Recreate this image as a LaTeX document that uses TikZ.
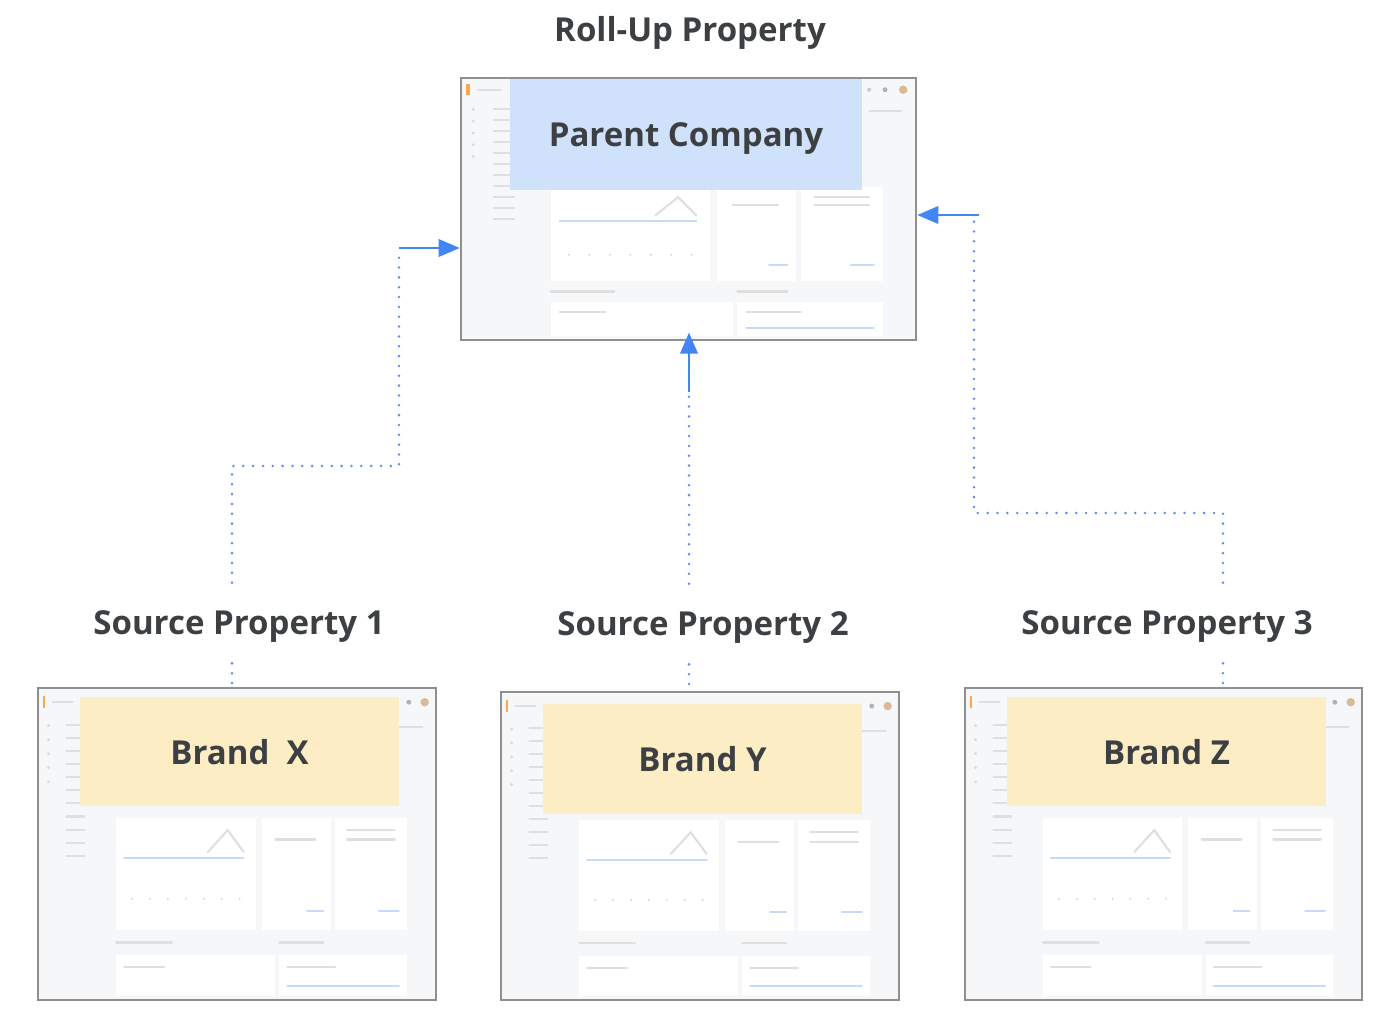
\documentclass[tikz,border=0pt]{standalone}
\usepackage{fontspec}
\setmainfont{Open Sans}
\usetikzlibrary{arrows.meta,calc}

% 颜色
\definecolor{txtgray}{HTML}{3C4043}
\definecolor{framegray}{HTML}{8F8F8F}
\definecolor{pagebg}{HTML}{F6F7F8}
\definecolor{linkblue}{HTML}{4285F4}
\definecolor{dotblue}{HTML}{5C8FEA}
\definecolor{parentblue}{HTML}{D0E1FB}
\definecolor{brandyellow}{HTML}{FDEDC4}

% 截图内容(模糊的界面示意)
\newcommand{\uimock}[3]{%
  \begin{scope}[shift={(#1.north west)}, x=#2*0.02cm, y=-#3*0.02cm]
    % 卡片
    \fill[white] (0.2,0.42) rectangle (0.55,0.78);
    \fill[white] (0.565,0.42) rectangle (0.74,0.78);
    \fill[white] (0.75,0.42) rectangle (0.93,0.78);
    \fill[white] (0.2,0.86) rectangle (0.6,0.99);
    \fill[white] (0.61,0.86) rectangle (0.93,0.99);
    % 折线图
    \draw[mockline, linkblue!30] (0.22,0.55) -- (0.52,0.55);
    \draw[mockline] (0.43,0.53) -- (0.48,0.46) -- (0.52,0.53);
    \foreach \k in {0,...,6} \fill[gray!35] (0.24+0.045*\k,0.68) circle (0.6pt);
    % 侧栏
    \foreach \k in {1,...,11} \draw[mockline] (0.075,0.08+0.042*\k) -- (0.12,0.08+0.042*\k);
    \foreach \k in {1,...,5} \fill[gray!30] (0.03,0.08+0.045*\k) circle (0.9pt);
    % 顶栏图标
    \fill[orange!70] (0.015,0.03) rectangle (0.022,0.07);
    \draw[mockline] (0.04,0.05) -- (0.09,0.05);
    \fill[gray!40] (0.9,0.05) circle (1.2pt);
    \fill[gray!60] (0.935,0.05) circle (1.4pt);
    \fill[brown!55] (0.975,0.05) circle (2.4pt);
    \draw[mockline] (0.9,0.13) -- (0.97,0.13);
    % 文字行
    \draw[mockline] (0.6,0.49) -- (0.7,0.49);
    \draw[mockline] (0.78,0.46) -- (0.9,0.46);
    \draw[mockline] (0.78,0.49) -- (0.9,0.49);
    \draw[mockline, linkblue!30] (0.68,0.72) -- (0.72,0.72);
    \draw[mockline, linkblue!30] (0.86,0.72) -- (0.91,0.72);
    \draw[mockline] (0.2,0.82) -- (0.34,0.82);
    \draw[mockline] (0.61,0.82) -- (0.72,0.82);
    \draw[mockline] (0.22,0.9) -- (0.32,0.9);
    \draw[mockline] (0.63,0.9) -- (0.75,0.9);
    \draw[mockline, linkblue!30] (0.63,0.96) -- (0.91,0.96);
  \end{scope}}

\begin{document}
\begin{tikzpicture}[
    x=0.02cm, y=-0.02cm,
    title/.style={font=\bfseries\fontsize{18.8}{21}\selectfont, text=txtgray,
      minimum height=1.6cm, inner sep=0pt, text depth=0pt},
    frame/.style={draw=framegray, line width=1.6pt, fill=pagebg, inner sep=0pt},
    cover/.style={inner sep=0pt, text=txtgray, text depth=0pt,
      font=\bfseries\fontsize{18.8}{21}\selectfont},
    mockline/.style={gray!25, line width=1.2pt, line cap=round},
    dots/.style={dotblue, line width=1.6pt, line cap=round,
      dash pattern=on 0pt off 5.6pt},
    link/.style={linkblue, line width=1.2pt,
      -{Triangle[length=12pt, width=10pt]}}
  ]
    % 画布
    \useasboundingbox (0,0) rectangle (1400,1018);

    % 汇总媒体资源
    \node[title, minimum height=0pt] (R) at (690,29) {Roll-Up Property};
    \node[frame, minimum width=9.1cm, minimum height=5.24cm] (P) at (688.5,209) {};
    \uimock{P}{455}{262}
    \node[cover, fill=parentblue, minimum width=7.04cm, minimum height=2.22cm]
      (PC) at (686,134.5) {Parent Company};

    % 来源媒体资源
    \node[title] (S1) at (239,623) {Source Property 1};
    \node[title] (S2) at (703,624) {Source Property 2};
    \node[title] (S3) at (1167,623) {Source Property 3};

    % 三个品牌截图
    \node[frame, minimum width=7.96cm, minimum height=6.24cm] (X) at (237,844) {};
    \node[frame, minimum width=7.96cm, minimum height=6.16cm] (Y) at (700,846) {};
    \node[frame, minimum width=7.94cm, minimum height=6.24cm] (Z) at (1163.5,844) {};
    \uimock{X}{398}{312}
    \uimock{Y}{398}{308}
    \uimock{Z}{397}{312}
    \node[cover, fill=brandyellow, minimum width=6.38cm, minimum height=2.18cm]
      (BX) at (239.5,751.5) {Brand\ \ X};
    \node[cover, fill=brandyellow, minimum width=6.38cm, minimum height=2.2cm]
      (BY) at (702.5,759) {Brand Y};
    \node[cover, fill=brandyellow, minimum width=6.38cm, minimum height=2.18cm]
      (BZ) at (1166.5,751.5) {Brand Z};

    % 折点
    \coordinate (a1) at (232,466);
    \coordinate (a2) at (399,466);
    \coordinate (a3) at (399,248);
    \coordinate (b1) at (689,392);
    \coordinate (c1) at (1223,513);
    \coordinate (c2) at (974,513);
    \coordinate (c3) at (974,215);

    % 虚线连接
    \draw[dots] (S1.north -| a1) -- (a1) -- (a2) -- (a3);
    \draw[dots] (S2.north -| b1) -- (b1);
    \draw[dots] (S3.north -| c1) -- (c1) -- (c2) -- (c3);
    \draw[dots] (S1.south -| a1) -- (X.north -| a1);
    \draw[dots] (S2.south -| b1) -- (Y.north -| b1);
    \draw[dots] (S3.south -| c1) -- (Z.north -| c1);

    % 箭头
    \draw[link] (a3) -- (a3 -| P.west);
    \draw[link, shorten >=-5pt] (b1) -- (b1 |- P.south);
    \draw[link] ([xshift=3pt]c3) -- (c3 -| P.east);
\end{tikzpicture}
\end{document}
